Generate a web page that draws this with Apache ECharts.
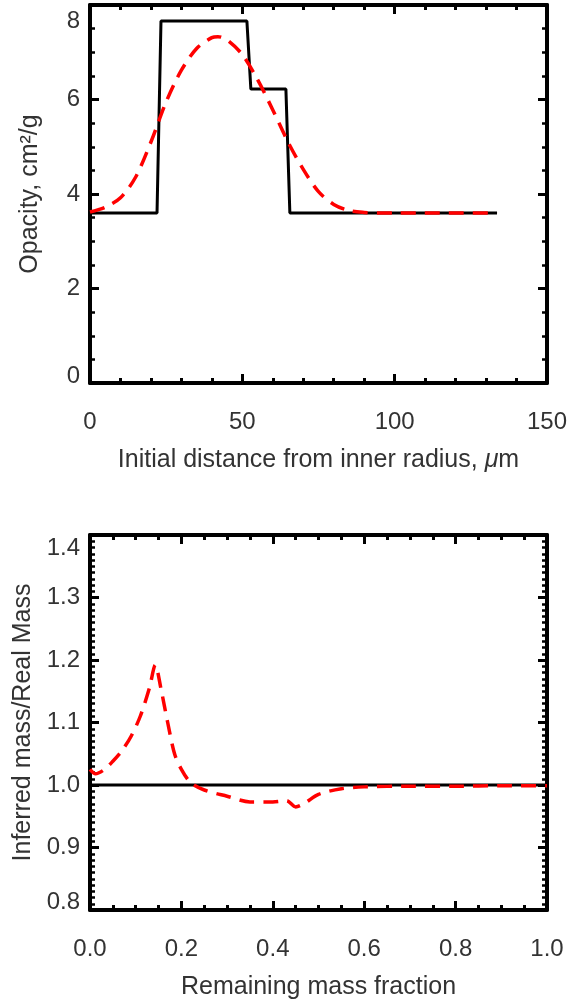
<!DOCTYPE html>
<html>
<head>
<meta charset="utf-8">
<script src="https://cdn.jsdelivr.net/npm/echarts@6/dist/echarts.min.js"></script>
<style>
  html, body { margin: 0; padding: 0; background: #fff; }
  #chart { width: 580px; height: 1001px; }
</style>
</head>
<body>
<div id="chart"></div>
<script>
// top panel: opacity profile
var stepX = [0, 22.0, 23.3, 51.5, 52.8, 64.3, 65.6, 133.6];
var stepY = [3.6, 3.6, 7.66, 7.66, 6.22, 6.22, 3.6, 3.6];
var fitX = [0, 5, 10, 15, 20, 25, 30, 35, 40, 42, 45, 50, 55, 60, 65, 70, 75, 80, 85, 90, 95, 100, 110, 120, 133.6];
var fitY = [3.62, 3.72, 3.92, 4.36, 5.1, 5.95, 6.62, 7.08, 7.31, 7.33, 7.26, 6.95, 6.42, 5.78, 5.1, 4.52, 4.05, 3.78, 3.65, 3.61, 3.6, 3.6, 3.6, 3.6, 3.6];

// bottom panel: inferred / real mass
var massX = [0, 1];
var massY = [1.0, 1.0];
var ratioX = [0, 0.012, 0.03, 0.05, 0.07, 0.09, 0.11, 0.13, 0.143, 0.155, 0.17, 0.185, 0.2, 0.22, 0.25, 0.3, 0.35, 0.4, 0.43, 0.45, 0.47, 0.5, 0.55, 0.6, 0.7, 0.8, 0.9, 1.0];
var ratioY = [1.025, 1.018, 1.024, 1.038, 1.055, 1.078, 1.11, 1.155, 1.192, 1.155, 1.1, 1.05, 1.025, 1.004, 0.992, 0.982, 0.973, 0.973, 0.975, 0.965, 0.971, 0.985, 0.994, 0.997, 0.998, 0.998, 0.999, 0.999];

var topTicks = ['0', '50', '100', '150'];
var botTicks = ['0.0', '0.2', '0.4', '0.6', '0.8', '1.0'];

function pairs(xs, ys) {
    var out = [];
    for (var i = 0; i < xs.length; i++) out.push([xs[i], ys[i]]);
    return out;
}

var FONT = 'Liberation Sans';
var TXT = '#333';

function xAx(grid, min, max, interval, minorSplit, pos, labels, name) {
    return {
        type: 'value', gridIndex: grid, position: pos, min: min, max: max, interval: interval,
        axisLine: { show: true, onZero: false, lineStyle: { color: '#000', width: 4 } },
        axisTick: { show: true, inside: true, length: 9, lineStyle: { color: '#000', width: 3 } },
        minorTick: { show: true, splitNumber: minorSplit, length: 5, lineStyle: { color: '#000', width: 3 } },
        splitLine: { show: false },
        axisLabel: pos == 'top' ? { show: false } : {
            show: true, margin: 27, fontSize: 24, color: TXT, fontFamily: FONT,
            formatter: function (v) { return labels[Math.round((v - min) / interval)]; }
        },
        name: pos == 'top' ? '' : name,
        nameLocation: 'middle', nameGap: 65,
        nameTextStyle: { fontSize: 25, color: TXT, fontFamily: FONT, rich: { i: { fontSize: 25, fontStyle: 'italic', color: TXT, fontFamily: FONT } } }
    };
}

function yAx(grid, min, max, interval, minorSplit, pos, fmt, name, padTop, padBot) {
    return {
        type: 'value', gridIndex: grid, position: pos, min: min, max: max, interval: interval,
        axisLine: { show: true, onZero: false, lineStyle: { color: '#000', width: 4 } },
        axisTick: { show: true, inside: true, length: 9, lineStyle: { color: '#000', width: 3 } },
        minorTick: { show: true, splitNumber: minorSplit, length: 5, lineStyle: { color: '#000', width: 2.5 } },
        splitLine: { show: false },
        axisLabel: pos == 'right' ? { show: false } : {
            show: true, margin: 10, fontSize: 24, color: TXT, fontFamily: FONT,
            formatter: function (v) {
                var s = fmt(v);
                if (Math.abs(v - max) < 1e-9) return '{t|' + s + '}';
                if (Math.abs(v - min) < 1e-9) return '{b|' + s + '}';
                return s;
            },
            rich: {
                t: { fontSize: 24, color: TXT, fontFamily: FONT, padding: [padTop, 0, 0, 0] },
                b: { fontSize: 24, color: TXT, fontFamily: FONT, padding: [0, 0, padBot, 0] }
            }
        },
        name: pos == 'right' ? '' : name,
        nameLocation: 'middle', nameGap: 47,
        nameTextStyle: { fontSize: 25, color: TXT, fontFamily: FONT }
    };
}

var myChart = echarts.init(document.getElementById('chart'), null, { renderer: 'canvas' });
var option = {
    animation: false,
    backgroundColor: '#fff',
    grid: [
        { left: 90, right: 33, top: 5, height: 378 },
        { left: 90, right: 33, top: 535, height: 378 }
    ],
    xAxis: [
        xAx(0, 0, 150, 50, 5, 'bottom', topTicks, 'Initial distance from inner radius, {i|μ}m'),
        xAx(0, 0, 150, 50, 5, 'top', topTicks, ''),
        xAx(1, 0, 1, 0.2, 4, 'bottom', botTicks, 'Remaining mass fraction'),
        xAx(1, 0, 1, 0.2, 4, 'top', botTicks, '')
    ],
    yAxis: [
        yAx(0, 0, 8, 2, 4, 'left', function (v) { return String(v); }, 'Opacity, cm²/g', 32, 14),
        yAx(0, 0, 8, 2, 4, 'right', function (v) { return String(v); }, '', 0, 0),
        yAx(1, 0.8, 1.4, 0.1, 10, 'left', function (v) { return v.toFixed(1); }, 'Inferred mass/Real Mass', 26, 16),
        yAx(1, 0.8, 1.4, 0.1, 10, 'right', function (v) { return v.toFixed(1); }, '', 0, 0)
    ],
    series: [
        {
            type: 'line', xAxisIndex: 0, yAxisIndex: 0, data: pairs(stepX, stepY),
            symbol: 'none', lineStyle: { color: '#000', width: 3 }, z: 2
        },
        {
            type: 'line', xAxisIndex: 0, yAxisIndex: 0, data: pairs(fitX, fitY),
            symbol: 'none', smooth: 0.3,
            lineStyle: { color: '#ff0000', width: 3.5, type: [15, 9] }, z: 3
        },
        {
            type: 'line', xAxisIndex: 2, yAxisIndex: 2, data: pairs(massX, massY),
            symbol: 'none', lineStyle: { color: '#000', width: 3 }, z: 2
        },
        {
            type: 'line', xAxisIndex: 2, yAxisIndex: 2, data: pairs(ratioX, ratioY),
            symbol: 'none', smooth: 0.3,
            lineStyle: { color: '#ff0000', width: 3.5, type: [15, 9] }, z: 3
        }
    ]
};
myChart.setOption(option, true);
</script>
</body>
</html>
